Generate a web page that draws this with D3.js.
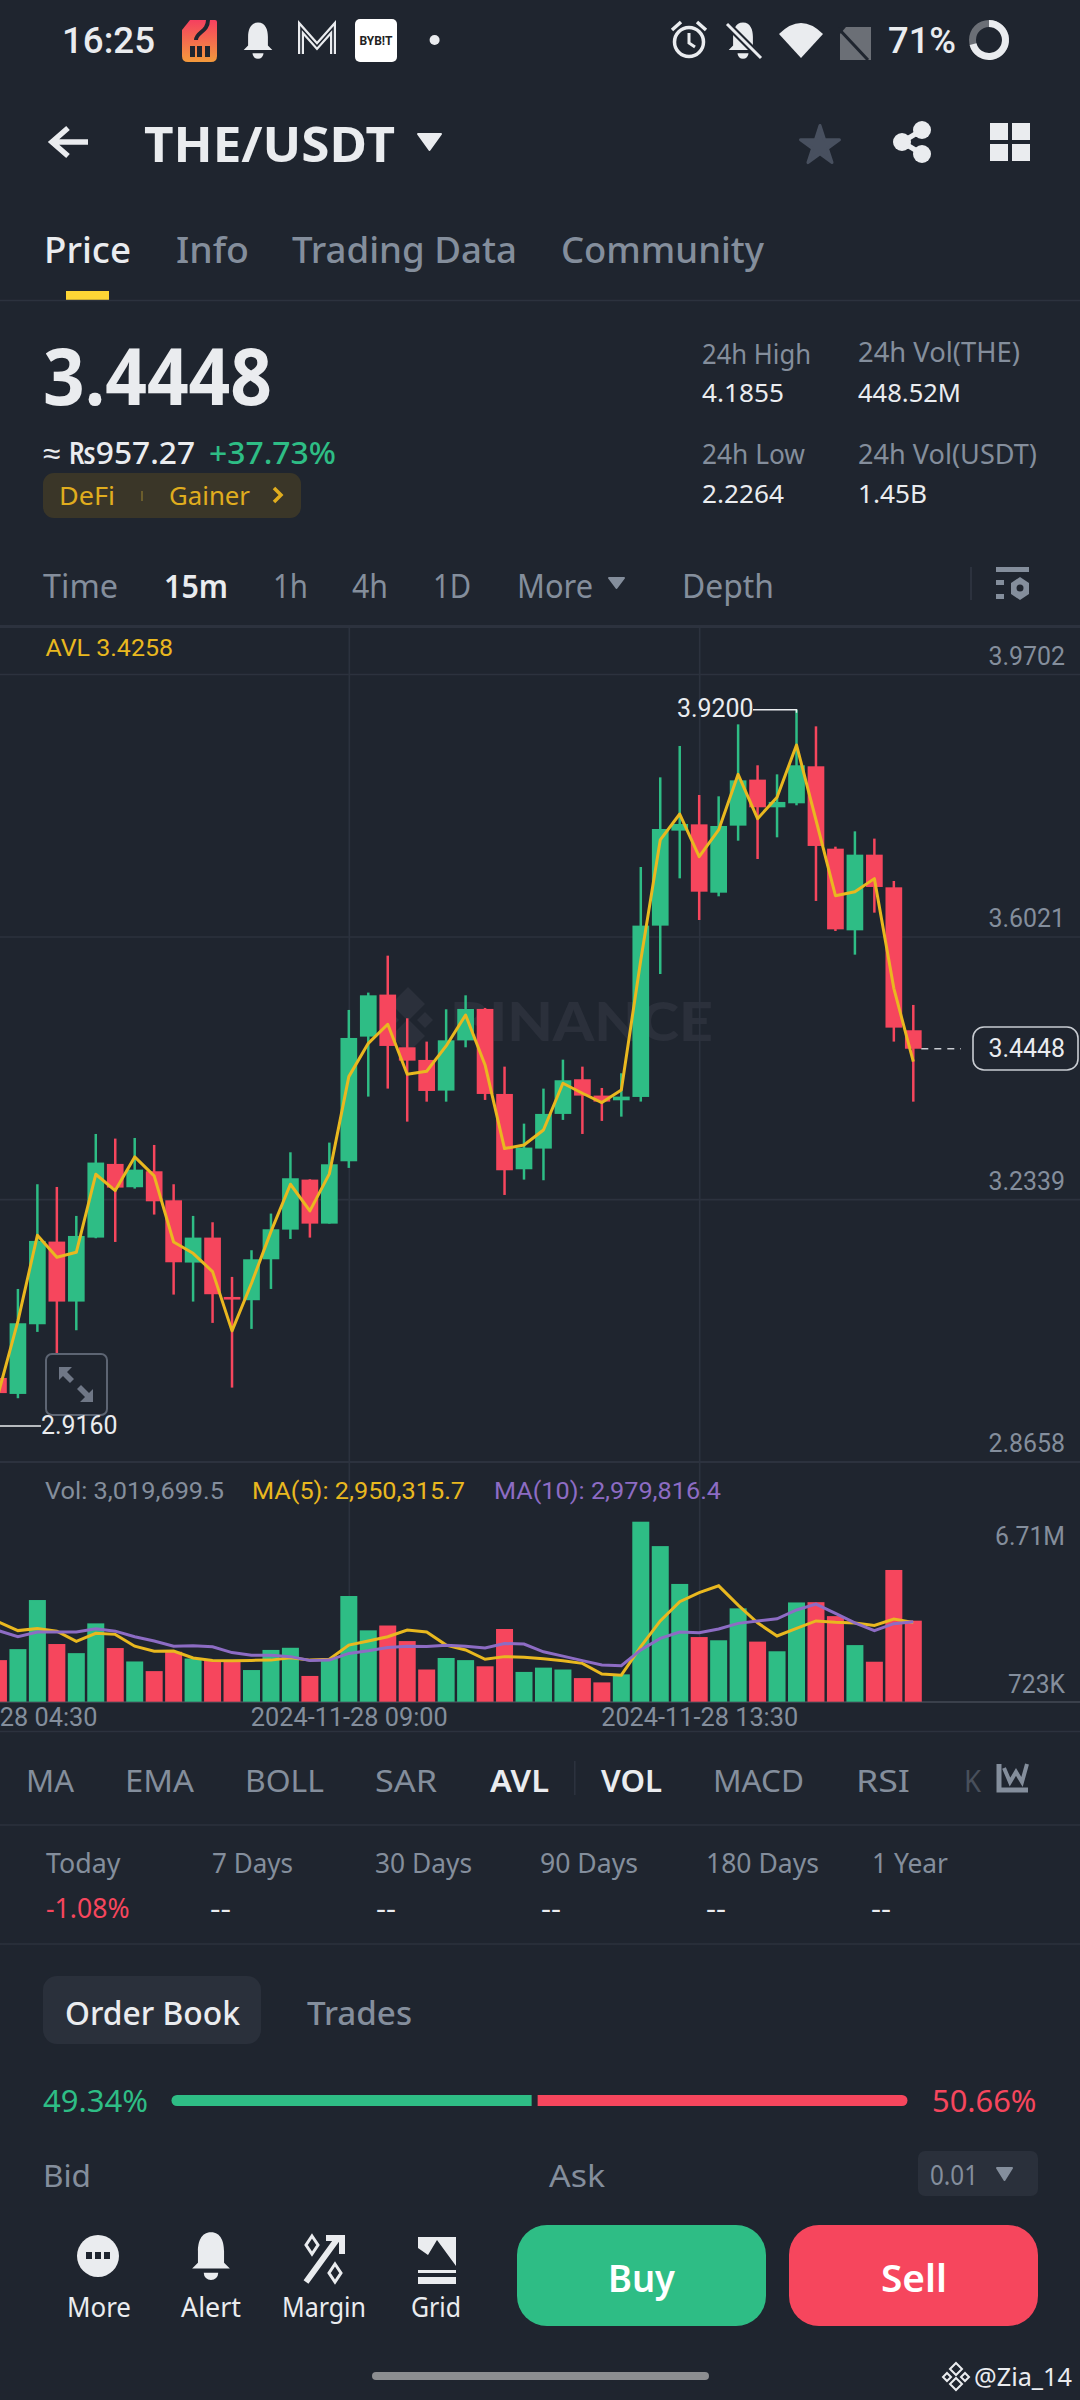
<!DOCTYPE html>
<html><head><meta charset="utf-8">
<style>html,body{margin:0;padding:0;background:#1f252f}svg{display:block}</style>
<script src="https://cdn.jsdelivr.net/npm/d3@7/dist/d3.min.js"></script></head>
<body><svg id="c" width="1080" height="2400"></svg>
<script>
// ---------- chart data ----------
const open  = [2.9832,2.9608,3.0585,3.1744,3.0903,3.1800,3.2833,3.2506,3.2730,3.2323,3.1450,3.1800,3.0968,3.0922,3.1496,3.1912,3.2613,3.1996,3.2870,3.4618,3.5207,3.4468,3.4291,3.3861,3.4566,3.5006,3.3814,3.2758,3.3048,3.3534,3.4020,3.3791,3.3725,3.3772,3.6174,3.7506,3.7594,3.6636,3.7576,3.8221,3.7833,3.7889,3.8408,3.7253,3.6108,3.7169,3.6711,3.4707];
const high  = [3.0000,3.1080,3.2548,3.2510,3.2104,3.3253,3.3188,3.3197,3.3099,3.2548,3.2104,3.2015,3.1249,3.1623,3.2137,3.2996,3.2618,3.3132,3.4992,3.5235,3.5753,3.4875,3.4548,3.5001,3.5197,3.5020,3.4197,3.3398,3.3889,3.4295,3.4197,3.3898,3.4104,3.6996,3.8253,3.8693,3.8006,3.7987,3.8996,3.8422,3.8295,3.9200,3.8968,3.7281,3.7496,3.7394,3.6800,3.5062];
const low   = [2.9160,2.9548,3.0478,3.0169,3.0501,3.1791,3.1739,3.2487,3.2123,3.1001,3.0903,3.0604,2.9697,3.0520,3.1080,3.1781,3.1800,3.1996,3.2777,3.3777,3.3889,3.3426,3.3706,3.3706,3.4468,3.3730,3.2398,3.2613,3.2604,3.3450,3.3253,3.3436,3.3496,3.3707,3.5496,3.6837,3.6253,3.6585,3.7365,3.7108,3.7412,3.7861,3.6520,3.6099,3.5767,3.6356,3.4548,3.3706];
const close = [2.9620,3.0599,3.1753,3.0903,3.1823,3.2852,3.2501,3.2753,3.2309,3.1454,3.1800,3.1006,3.0931,3.1496,3.1917,3.2632,3.1996,3.2828,3.4599,3.5197,3.4487,3.4281,3.3856,3.4566,3.5006,3.3814,3.2744,3.3062,3.3534,3.4006,3.3791,3.3707,3.3777,3.6174,3.7529,3.7599,3.6650,3.7571,3.8211,3.7833,3.7908,3.8422,3.7291,3.6122,3.7169,3.6716,3.4744,3.4448];
const avl   = [2.9622,3.0630,3.1833,3.1524,3.1594,3.2688,3.2459,3.2931,3.2665,3.1739,3.1580,3.1323,3.0492,3.1160,3.1884,3.2548,3.2174,3.2693,3.4057,3.4524,3.4791,3.4090,3.4132,3.4487,3.4921,3.4221,3.3048,3.3099,3.3309,3.3964,3.3824,3.3693,3.3870,3.5693,3.7375,3.7739,3.7141,3.7515,3.8295,3.7674,3.7973,3.8707,3.7655,3.6594,3.6650,3.6833,3.5295,3.4267];
const volume= [1.55,1.96,3.79,2.15,1.81,2.92,2.00,1.50,1.14,1.86,1.61,1.55,1.49,1.18,1.93,2.01,0.96,1.61,3.94,2.66,2.84,2.26,1.20,1.63,1.55,1.32,2.71,1.11,1.27,1.20,0.88,0.72,1.02,6.71,5.80,4.39,2.41,2.29,3.48,2.24,1.88,3.70,3.71,3.19,2.11,1.49,4.91,3.02];
const ma5   = [2.97,2.65,2.73,2.63,2.25,2.55,2.51,2.07,1.88,1.89,1.63,1.54,1.53,1.54,1.55,1.64,1.55,1.58,2.11,2.26,2.42,2.67,2.60,2.11,1.93,1.58,1.68,1.66,1.60,1.53,1.43,1.03,0.99,2.05,3.01,3.73,4.07,4.32,3.60,2.94,2.45,2.73,3.01,2.96,2.93,2.84,3.08,2.95];
const ma10  = [2.65,2.42,2.60,2.60,2.60,2.72,2.63,2.42,2.26,2.07,2.09,2.05,1.83,1.73,1.73,1.68,1.54,1.55,1.80,1.90,2.02,2.07,2.06,2.10,2.07,2.00,2.17,2.15,1.86,1.70,1.53,1.37,1.34,1.93,2.36,2.60,2.57,2.71,2.92,3.01,3.09,3.42,3.64,3.29,2.94,2.65,2.91,2.98];
const priceTicks = [3.9702,3.6021,3.2339,2.8658];
const timeTickIdx = [0,18,36];
const timeTickLabels = ["2024-11-28 04:30","2024-11-28 09:00","2024-11-28 13:30"];
const lastPrice = 3.4448, maxMark = 3.9200, minMark = 2.9160;
const indicatorTabs = ["MA","EMA","BOLL","SAR","AVL","VOL","MACD","RSI"];
const periodNames = ["Today","7 Days","30 Days","90 Days","180 Days","1 Year"];
const periodValues = ["-1.08%","--","--","--","--","--"];

// ---------- palette ----------
const BG="#1f252f",GRID="#2c323e",GREEN="#2ebd85",RED="#f6465d",GREY="#848e9c",WHITE="#eaecef",YEL="#e9b81f",PUR="#8d6cc4",LIGHT="#2a303b";
const UI='"Noto Sans",sans-serif',CH='Roboto,sans-serif';
const svg=d3.select("#c");
svg.append("rect").attr("width",1080).attr("height",2400).attr("fill",BG);

// text placed by its left/right edges and vertical centre
function T(s,x0,x1,yc,size,color,weight=400,font=UI,g=svg){
  return g.append("text").text(s).attr("x",x0).attr("y",yc+size*0.36).attr("font-size",size)
    .attr("font-family",font).attr("font-weight",weight).attr("fill",color)
    .attr("textLength",x1-x0).attr("lengthAdjust","spacingAndGlyphs");
}
function tri(x0,x1,y0,y1,color){svg.append("path").attr("d",`M${x0},${y0}L${x1},${y0}L${(x0+x1)/2},${y1}Z`).attr("fill",color).attr("stroke",color).attr("stroke-width",2).attr("stroke-linejoin","round");}
function bell(cx,cy,k,color){
  svg.append("path").attr("transform",`translate(${cx},${cy}) scale(${k})`).attr("fill",color)
   .attr("d","M0,-15C-7,-15 -9,-8 -9,-2L-9,6L-13,10L13,10L9,6L9,-2C9,-8 7,-15 0,-15ZM-5,13A5,5 0 0 0 5,13Z");
}

// ---------- scales ----------
const x=d3.scaleLinear().domain([0,47]).range([-1.55,913.3]);
const y=d3.scaleLinear().domain([2.8658,3.9702]).range([1461.7,674]);
const v=d3.scaleLinear().domain([0,6.71]).range([1701.7,1521.7]);
const idx=d3.range(open.length);
const BODY=16.7, VBAR=17;
const col=i=>close[i]>=open[i]?GREEN:RED;

// ---------- status bar ----------
T("16:25",62,155,40.5,36,WHITE,500,CH);
const defs=svg.append("defs");
const lg=defs.append("linearGradient").attr("id","app").attr("x1",0).attr("x2",0).attr("y1",0).attr("y2",1);
lg.append("stop").attr("offset","0").attr("stop-color","#f5405f");lg.append("stop").attr("offset","1").attr("stop-color","#f39a3c");
svg.append("path").attr("d","M190,20L215,20Q217,20 217,22L217,56Q217,62 211,62L188,62Q182,62 182,56L182,30Z").attr("fill","url(#app)");
[190,197,205].forEach(a=>svg.append("rect").attr("x",a).attr("y",46).attr("width",5).attr("height",11).attr("fill",BG));
svg.append("path").attr("d","M208,20C208,32 196,32 196,40").attr("fill","none").attr("stroke",BG).attr("stroke-width",4);
bell(258,39,1.1,WHITE);
svg.append("path").attr("d","M301,54L301,28L317,46L333,28L333,54").attr("fill","none").attr("stroke",WHITE).attr("stroke-width",6);
svg.append("path").attr("d","M301,54L301,28L317,46L333,28L333,54").attr("fill","none").attr("stroke",BG).attr("stroke-width",1.6);
svg.append("rect").attr("x",355).attr("y",19).attr("width",42).attr("height",43).attr("rx",5).attr("fill","#fff");
svg.append("text").text("BYB!T").attr("x",376).attr("y",45).attr("text-anchor","middle").attr("font-family",CH).attr("font-size",12).attr("font-weight",700).attr("fill","#222");
svg.append("circle").attr("cx",434.6).attr("cy",40).attr("r",5).attr("fill",WHITE);
svg.append("circle").attr("cx",689).attr("cy",42).attr("r",14.5).attr("fill","none").attr("stroke",WHITE).attr("stroke-width",3.5);
svg.append("path").attr("d","M689,33L689,43L695,47").attr("fill","none").attr("stroke",WHITE).attr("stroke-width",3);
svg.append("path").attr("d","M672,30L681,22M706,30L697,22").attr("stroke",WHITE).attr("stroke-width",3.5);
bell(743,39,1.1,WHITE);
svg.append("path").attr("d","M727,24L761,58").attr("stroke",BG).attr("stroke-width",7);
svg.append("path").attr("d","M727,24L761,58").attr("stroke",WHITE).attr("stroke-width",3);
svg.append("path").attr("d","M779,34Q801,12 823,34L801,58Z").attr("fill",WHITE);
svg.append("path").attr("d","M846,27L871,27L871,60L840,60L840,34Z").attr("fill","#6b6f76");
svg.append("path").attr("d","M838,28L868,60").attr("stroke",BG).attr("stroke-width",3);
T("71%",888,956,40,36,WHITE,500,CH);
const ring=d3.arc().innerRadius(13).outerRadius(20);
const ringG=svg.append("g").attr("transform","translate(989,40)");
ringG.append("path").attr("d",ring({startAngle:0,endAngle:Math.PI*2})).attr("fill","#6b6f76");
ringG.append("path").attr("d",ring({startAngle:0,endAngle:Math.PI*2*0.71})).attr("fill",WHITE);

// ---------- header ----------
svg.append("path").attr("d","M88,142L54,142M68,128L52,142L68,156").attr("fill","none").attr("stroke",WHITE).attr("stroke-width",5.5);
T("THE/USDT",144,395,144,49,WHITE,700);
tri(418,441,134,150,WHITE);
svg.append("path").attr("transform","translate(820,146)").attr("d",d3.symbol(d3.symbolStar).size(470)()).attr("fill","#48505f").attr("stroke","#48505f").attr("stroke-width",3).attr("stroke-linejoin","round");
svg.append("path").attr("d","M922,130L902,142L922,154").attr("fill","none").attr("stroke",WHITE).attr("stroke-width",5);
[[922,130],[902,142],[922,154]].forEach(p=>svg.append("circle").attr("cx",p[0]).attr("cy",p[1]).attr("r",9).attr("fill",WHITE));
[[990,123],[1012,123],[990,144],[1012,144]].forEach(p=>svg.append("rect").attr("x",p[0]).attr("y",p[1]).attr("width",18).attr("height",17).attr("fill",WHITE));
T("Price",44,131,250,37,WHITE,500);
T("Info",176,249,250,37,GREY,500);
T("Trading Data",292,517,250,37,GREY,500);
T("Community",561,764,250,37,GREY,500);
svg.append("rect").attr("x",66).attr("y",291).attr("width",43).attr("height",9).attr("fill","#fcd535");
svg.append("line").attr("x1",0).attr("x2",1080).attr("y1",300.5).attr("y2",300.5).attr("stroke",GRID).attr("stroke-width",1.5);

// ---------- price block ----------
T("3.4448",43,272,377,78,WHITE,700);
T("≈ ₨957.27",43,195,453,31,WHITE,500);
T("+37.73%",209,336,453,31,GREEN,500);
svg.append("rect").attr("x",43).attr("y",473).attr("width",258).attr("height",45).attr("rx",11).attr("fill","#3a3628");
T("DeFi",59,115,496,26,"#e0ad1e");
svg.append("rect").attr("x",141).attr("y",491).attr("width",2).attr("height",10).attr("fill","#6b5d2c");
T("Gainer",169,250,496,26,"#e0ad1e");
svg.append("path").attr("d","M274,488L281,495L274,502").attr("fill","none").attr("stroke","#e0ad1e").attr("stroke-width",3.5);
T("24h High",702,811,354,27,GREY);
T("4.1855",702,784,393,26,WHITE);
T("24h Vol(THE)",858,1020,352,27,GREY);
T("448.52M",858,961,393,26,WHITE);
T("24h Low",702,805,454,27,GREY);
T("2.2264",702,784,494,26,WHITE);
T("24h Vol(USDT)",858,1037,454,27,GREY);
T("1.45B",858,927,494,26,WHITE);

// ---------- interval row ----------
T("Time",43,118,586,33,GREY);
T("15m",164,228,586,33,WHITE,600);
T("1h",273,308,586,33,GREY);
T("4h",352,388,586,33,GREY);
T("1D",433,471,586,33,GREY);
T("More",517,593,586,33,GREY);
tri(609,624,578,588,GREY);
T("Depth",682,774,586,33,GREY);
svg.append("line").attr("x1",971).attr("x2",971).attr("y1",567).attr("y2",600).attr("stroke",GRID).attr("stroke-width",2);
svg.append("rect").attr("x",996).attr("y",567).attr("width",33).attr("height",5).attr("fill",GREY);
svg.append("rect").attr("x",996).attr("y",580).attr("width",8).attr("height",5).attr("fill",GREY);
svg.append("rect").attr("x",996).attr("y",594).attr("width",8).attr("height",5).attr("fill",GREY);
svg.append("path").attr("d","M1020,577L1029,583L1029,594L1020,600L1011,594L1011,583Z").attr("fill",GREY);
svg.append("circle").attr("cx",1020).attr("cy",588).attr("r",3.5).attr("fill",BG);
svg.append("rect").attr("x",0).attr("y",625).attr("width",1080).attr("height",3).attr("fill",GRID);

// ---------- watermark ----------
const wm=svg.append("g").attr("fill","#2b303b");
[[408,1004,17],[408,1036,17],[425,1020,8],[391,1020,8]].forEach(d=>{
  wm.append("path").attr("d",`M${d[0]},${d[1]-d[2]}L${d[0]+d[2]},${d[1]}L${d[0]},${d[1]+d[2]}L${d[0]-d[2]},${d[1]}Z`);
});
wm.append("text").text("BINANCE").attr("x",450).attr("y",1041).attr("font-family","Lato,sans-serif").attr("font-size",54).attr("font-weight",900).attr("textLength",263).attr("lengthAdjust","spacingAndGlyphs");

// ---------- grid + axes ----------
const gridY=svg.append("g").call(d3.axisRight(y).tickValues(priceTicks).tickSize(1080).tickFormat(d3.format(".4f")));
gridY.select(".domain").remove();
gridY.selectAll("line").attr("stroke",GRID).attr("stroke-width",1.6);
gridY.selectAll("text").attr("x",1065).attr("dy",0).attr("y",-10).attr("text-anchor","end").attr("fill",GREY).attr("font-family",CH).attr("font-size",24.9);

const gridX=svg.append("g").attr("transform","translate(0,1702)")
  .call(d3.axisBottom(x).tickValues(timeTickIdx).tickSize(-1074).tickPadding(0).tickFormat((d,i)=>timeTickLabels[i]));
gridX.select(".domain").remove();
gridX.selectAll("line").attr("stroke",GRID).attr("stroke-width",1.6);
gridX.selectAll("text").attr("y",23.5).attr("dy",0).attr("fill",GREY).attr("font-family",CH).attr("font-size",25.3);
svg.append("rect").attr("x",0).attr("y",1461).attr("width",1080).attr("height",2).attr("fill",GRID);
svg.append("line").attr("x1",0).attr("x2",1080).attr("y1",1702).attr("y2",1702).attr("stroke","#3a404b").attr("stroke-width",2);
svg.append("line").attr("x1",0).attr("x2",1080).attr("y1",1731.5).attr("y2",1731.5).attr("stroke",GRID).attr("stroke-width",1.5);

// ---------- candles ----------
const cg=svg.append("g");
cg.selectAll("line.w").data(idx).join("line").attr("class","w")
  .attr("x1",i=>x(i)).attr("x2",i=>x(i)).attr("y1",i=>y(high[i])).attr("y2",i=>y(low[i]))
  .attr("stroke",col).attr("stroke-width",2.5);
cg.selectAll("rect.b").data(idx).join("rect").attr("class","b")
  .attr("x",i=>x(i)-BODY/2).attr("width",BODY)
  .attr("y",i=>y(Math.max(open[i],close[i])))
  .attr("height",i=>Math.max(2.5,y(Math.min(open[i],close[i]))-y(Math.max(open[i],close[i]))))
  .attr("fill",col);
svg.append("path").datum(avl).attr("fill","none").attr("stroke",YEL).attr("stroke-width",3).attr("stroke-linejoin","round")
  .attr("d",d3.line().x((d,i)=>x(i)).y(d=>y(d)));

// ---------- price annotations ----------
const hiI=high.indexOf(maxMark), loI=low.indexOf(minMark);
svg.append("path").attr("d",`M${x(hiI)},${y(maxMark)+3}V${y(maxMark)}H753`).attr("fill","none").attr("stroke",WHITE).attr("stroke-width",1.5);
svg.append("line").attr("x1",0).attr("x2",41).attr("y1",y(minMark)).attr("y2",y(minMark)).attr("stroke",WHITE).attr("stroke-width",1.5);
const lab=(s,x0,cy)=>svg.append("text").text(s).attr("x",x0).attr("y",cy+9).attr("font-family",CH).attr("font-size",24.9).attr("fill",WHITE);
lab(maxMark.toFixed(4),677,y(maxMark)-2);
// expand button sits on top of the candles
svg.append("rect").attr("x",46).attr("y",1354).attr("width",61).attr("height",61).attr("rx",6).attr("fill",BG).attr("stroke","#5d6573").attr("stroke-width",2);
svg.append("path").attr("d","M59,1367L72,1367L67,1372L74,1379L70,1383L63,1376L59,1380ZM93,1402L80,1402L85,1397L77,1389L81,1385L89,1393L93,1389Z").attr("fill","#6f7786");
lab(minMark.toFixed(4),41,y(minMark)-1);
svg.append("line").attr("x1",x(47)+8).attr("x2",961).attr("y1",y(lastPrice)).attr("y2",y(lastPrice)).attr("stroke","#c8ccd2").attr("stroke-width",1.5).attr("stroke-dasharray","7 6");
svg.append("rect").attr("x",973).attr("y",1027).attr("width",105).attr("height",43).attr("rx",11).attr("fill",BG).attr("stroke","#c8ccd2").attr("stroke-width",1.6);
svg.append("text").text(lastPrice.toFixed(4)).attr("x",1065).attr("y",1057).attr("text-anchor","end").attr("font-family",CH).attr("font-size",24.9).attr("fill",WHITE);
T("AVL 3.4258",45.5,173,647,24.5,YEL,400,CH);

// ---------- volume ----------
T("Vol: 3,019,699.5",45,224,1490.7,23.5,GREY,400,CH);
T("MA(5): 2,950,315.7",252,465,1490.7,23.5,YEL,400,CH);
T("MA(10): 2,979,816.4",494,721,1490.7,23.5,PUR,400,CH);
svg.append("g").selectAll("rect").data(idx).join("rect")
  .attr("x",i=>x(i)-VBAR/2).attr("width",VBAR).attr("y",i=>v(volume[i])).attr("height",i=>v(0)-v(volume[i])).attr("fill",col);
const vl=d3.line().x((d,i)=>x(i)).y(d=>v(d));
svg.append("path").datum(ma5).attr("fill","none").attr("stroke",YEL).attr("stroke-width",3).attr("d",vl);
svg.append("path").datum(ma10).attr("fill","none").attr("stroke",PUR).attr("stroke-width",3).attr("d",vl);
T("6.71M",995,1065,1536,24.9,GREY,400,CH);
T("723K",1008,1065,1684,24.9,GREY,400,CH);

// ---------- indicator tabs ----------
const tabX=[[26,74],[125,194],[245,324],[375,437],[490,549],[601,662],[713,804],[856,910]];
indicatorTabs.forEach((s,i)=>{const on=s==="AVL"||s==="VOL";T(s,tabX[i][0],tabX[i][1],1781,31,on?WHITE:GREY,on?600:400);});
T("K",964,981,1781,31,"#484f5b");
svg.append("rect").attr("x",574).attr("y",1761).attr("width",1.6).attr("height",34).attr("fill",GRID);
svg.append("rect").attr("x",985).attr("y",1755).attr("width",60).attr("height",50).attr("fill",BG);
svg.append("path").attr("d","M999,1764V1790H1028").attr("fill","none").attr("stroke",GREY).attr("stroke-width",5);
svg.append("path").attr("d","M1004,1768L1010,1782L1016,1772L1022,1782L1027,1764").attr("fill","none").attr("stroke",GREY).attr("stroke-width",4);
svg.append("line").attr("x1",0).attr("x2",1080).attr("y1",1825).attr("y2",1825).attr("stroke",GRID).attr("stroke-width",1.5);

// ---------- period row ----------
const perX=[[46,120.5],[212,293],[375,472],[540,638],[706,819],[872,948]];
const perVX=[[46,129.5],[210,231],[376,396],[541,561],[706,726],[871,891]];
periodNames.forEach((s,i)=>T(s,perX[i][0],perX[i][1],1863,27,GREY));
periodValues.forEach((s,i)=>T(s,perVX[i][0],perVX[i][1],1908,27,i?WHITE:RED));
svg.append("line").attr("x1",0).attr("x2",1080).attr("y1",1944).attr("y2",1944).attr("stroke",GRID).attr("stroke-width",1.5);

// ---------- order book ----------
svg.append("rect").attr("x",43).attr("y",1976).attr("width",218).attr("height",68).attr("rx",14).attr("fill",LIGHT);
T("Order Book",65,240,2013,33,WHITE,500);
T("Trades",307,412,2013,33,GREY,500);
T("49.34%",43,148,2101,31,GREEN);
T("50.66%",932,1036.5,2101,31,RED);
const bookSplit=[49.34,50.66];
const bk=d3.scaleLinear().domain([0,100]).range([171,908]);
svg.append("path").attr("d",`M${bk(bookSplit[0])-3},2095H177A5.5,5.5 0 0 0 177,2106H${bk(bookSplit[0])-3}Z`).attr("fill",GREEN);
svg.append("path").attr("d",`M${bk(bookSplit[0])+3},2095H902A5.5,5.5 0 0 1 902,2106H${bk(bookSplit[0])+3}Z`).attr("fill",RED);
T("Bid",43,91,2176,31,GREY);
T("Ask",549,605,2176,31,GREY);
svg.append("rect").attr("x",918).attr("y",2151).attr("width",120).attr("height",45).attr("rx",7).attr("fill",LIGHT);
T("0.01",930,978,2175,27,GREY);
tri(997,1012,2168,2180,GREY);

// ---------- bottom bar ----------
svg.append("circle").attr("cx",98).attr("cy",2256).attr("r",21).attr("fill",WHITE);
[86,95,104].forEach(a=>svg.append("rect").attr("x",a).attr("y",2252).attr("width",6).attr("height",7).attr("fill",BG));
bell(211,2254,1.45,WHITE);
svg.append("path").attr("d","M306,2282L338,2238M326,2238H342V2254").attr("fill","none").attr("stroke",WHITE).attr("stroke-width",6);
[[312,2245],[335,2273]].forEach(p=>svg.append("path").attr("d",`M${p[0]},${p[1]-9}L${p[0]+6},${p[1]}L${p[0]},${p[1]+9}L${p[0]-6},${p[1]}Z`).attr("fill","none").attr("stroke",WHITE).attr("stroke-width",3));
svg.append("path").attr("d","M418,2237H456V2266L437,2240L428,2255L418,2248Z").attr("fill",WHITE);
svg.append("rect").attr("x",418).attr("y",2270).attr("width",38).attr("height",3).attr("fill",WHITE);
svg.append("rect").attr("x",418).attr("y",2277).attr("width",38).attr("height",7).attr("fill",WHITE);
T("More",67,131,2307,27,WHITE);
T("Alert",181,241,2307,27,WHITE);
T("Margin",282,366,2307,27,WHITE);
T("Grid",411,461,2307,27,WHITE);
svg.append("rect").attr("x",517).attr("y",2225).attr("width",249).attr("height",101).attr("rx",30).attr("fill",GREEN);
svg.append("rect").attr("x",789).attr("y",2225).attr("width",249).attr("height",101).attr("rx",30).attr("fill",RED);
T("Buy",608,675,2278,38,"#fff",600);
T("Sell",881,947,2278,38,"#fff",600);
svg.append("rect").attr("x",372).attr("y",2372).attr("width",337).attr("height",8).attr("rx",4).attr("fill","#8c8e91");
[[956,2369,6],[956,2384,6],[947,2377,4],[965,2377,4]].forEach(d=>svg.append("path").attr("d",`M${d[0]},${d[1]-d[2]}L${d[0]+d[2]},${d[1]}L${d[0]},${d[1]+d[2]}L${d[0]-d[2]},${d[1]}Z`).attr("fill","none").attr("stroke",WHITE).attr("stroke-width",2));
T("@Zia_14",974,1072,2377,26,WHITE);
</script></body></html>
